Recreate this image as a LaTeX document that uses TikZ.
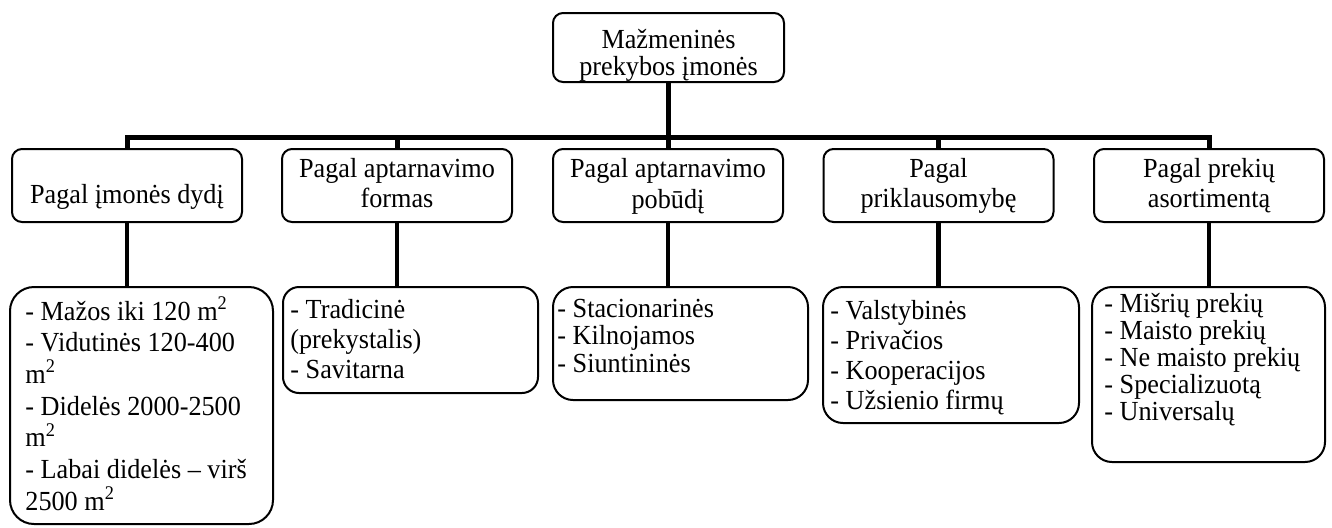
\documentclass[tikz,border=0pt]{standalone}
\usepackage{fontspec}
\setmainfont{Liberation Serif}[FakeStretch=0.95]
\begin{document}
\begin{tikzpicture}[x=0.5pt,y=-0.5pt,
  box/.style={draw, line width=1pt, rounded corners=5pt, inner sep=0pt},
  topbox/.style={box, minimum width=115pt, minimum height=36.5pt},
  listbox/.style={box, rounded corners=10pt},
  trunk/.style={line width=2.5pt, line join=miter},
  branch/.style={line width=2.2pt},
  txt/.style={inner sep=0pt, font=\fontsize{13.8pt}{15.25pt}\selectfont},
  ctxt/.style={txt, text width=112pt, align=flush center, anchor=base},
  ltxt/.style={txt, text width=125pt, align=flush left, anchor=base west},
]
\useasboundingbox (0,0) rectangle (1332,527);

% root
\node[box, minimum width=115.5pt, minimum height=34.5pt] (root) at (668.5,47.5) {};
\node[ctxt, font=\fontsize{13.8pt}{13.5pt}\selectfont] (root-t) at (668.5,48.5) {Mažmeninės\\prekybos įmonės};

% classification criteria
\node[topbox] (g1) at (127,185.5) {};
\node[topbox] (g2) at (397,185.5) {};
\node[topbox] (g3) at (668,185.5) {};
\node[topbox] (g4) at (938.5,185.5) {};
\node[topbox] (g5) at (1209,185.5) {};

\node[ctxt] (g1-t) at (127,203) {Pagal įmonės dydį};
\node[ctxt] (g2-t) at (397,177) {Pagal aptarnavimo\\formas};
\node[ctxt] (g3-t) at (668,177.5) {Pagal aptarnavimo\\pobūdį};
\node[ctxt] (g4-t) at (938.5,177) {Pagal\\priklausomybę};
\node[ctxt] (g5-t) at (1209,177) {Pagal prekių\\asortimentą};

% lists of kinds
\node[listbox, rounded corners=12pt, minimum width=131.5pt, minimum height=118.5pt] (c1) at (141.5,405.5) {};
\node[listbox, rounded corners=8pt, minimum width=127.5pt, minimum height=53pt] (c2) at (410.5,340) {};
\node[listbox, minimum width=127.5pt, minimum height=56.5pt] (c3) at (680.5,343.5) {};
\node[listbox, minimum width=128pt, minimum height=68pt] (c4) at (951,355) {};
\node[listbox, minimum width=116.5pt, minimum height=87.5pt] (c5) at (1208.5,374.5) {};

\node[ltxt, font=\fontsize{13.8pt}{15.85pt}\selectfont] (c1-t) at (25,320)
  {- Mažos iki 120 m\textsuperscript{2}\\- Vidutinės 120-400\\m\textsuperscript{2}\\- Didelės 2000-2500\\m\textsuperscript{2}\\- Labai didelės – virš\\2500 m\textsuperscript{2}};
\node[ltxt, font=\fontsize{13.8pt}{15.2pt}\selectfont] (c2-t) at (290,318)
  {- Tradicinė\\(prekystalis)\\- Savitarna};
\node[ltxt, font=\fontsize{13.8pt}{13.75pt}\selectfont] (c3-t) at (557,317)
  {- Stacionarinės\\- Kilnojamos\\- Siuntininės};
\node[ltxt, font=\fontsize{13.8pt}{15pt}\selectfont] (c4-t) at (830,319)
  {- Valstybinės\\- Privačios\\- Kooperacijos\\- Užsienio firmų};
\node[ltxt, font=\fontsize{13.8pt}{13.6pt}\selectfont] (c5-t) at (1104,312)
  {- Mišrių prekių\\- Maisto prekių\\- Ne maisto prekių\\- Specializuotą\\- Universalų};

% tree connectors
\coordinate (bar) at (0,137);
\draw[trunk] (root.south) -- (root.south |- bar);
\draw[trunk] (g1.north) -- (g1.north |- bar) -- (g5.north |- bar) -- (g5.north);
\foreach \i in {2,3,4}
  \draw[trunk] (g\i.north |- bar) -- (g\i.north);
\foreach \i in {1,...,5}
  \draw[branch] (g\i.south) -- (g\i.south |- c\i.north);
\end{tikzpicture}
\end{document}
